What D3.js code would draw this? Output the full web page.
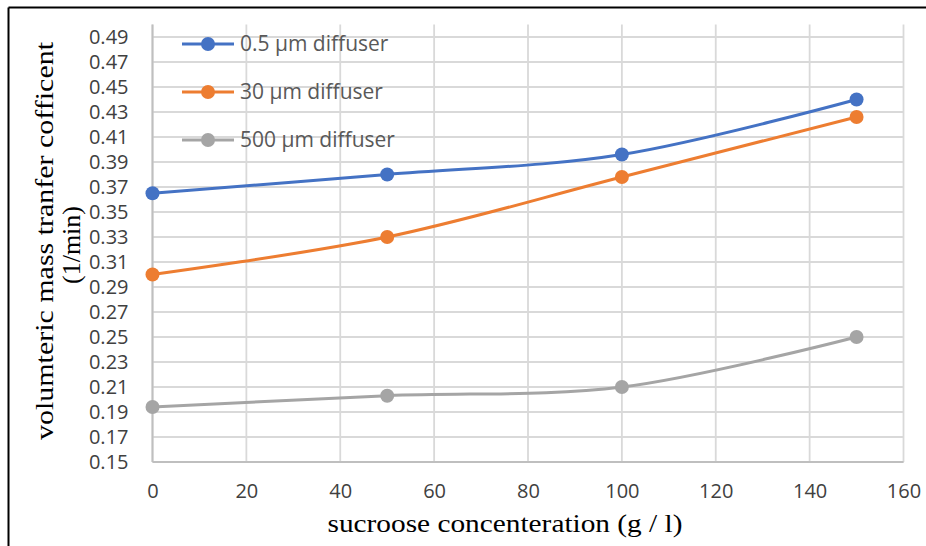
<!DOCTYPE html>
<html>
<head>
<meta charset="utf-8">
<script src="https://cdn.jsdelivr.net/npm/d3@7"></script>
<style>
  html, body { margin: 0; padding: 0; background: #fff; }
  svg { display: block; }
</style>
</head>
<body>
<svg id="chart" width="926" height="546"></svg>
<script>
const concentrations = [0, 50, 100, 150];
const seriesNames = ["0.5 \u00b5m diffuser", "30 \u00b5m diffuser", "500 \u00b5m diffuser"];
const diffuser05 = [0.365, 0.380, 0.396, 0.440];
const diffuser30 = [0.300, 0.330, 0.378, 0.426];
const diffuser500 = [0.194, 0.203, 0.210, 0.250];
const seriesColors = ["#4472C4", "#ED7D31", "#A5A5A5"];
const xTicks = [0, 20, 40, 60, 80, 100, 120, 140, 160];
const yTicks = [0.15, 0.17, 0.19, 0.21, 0.23, 0.25, 0.27, 0.29, 0.31, 0.33, 0.35, 0.37, 0.39, 0.41, 0.43, 0.45, 0.47, 0.49];

const series = [diffuser05, diffuser30, diffuser500].map((vals, i) => ({
  name: seriesNames[i], color: seriesColors[i],
  points: vals.map((v, j) => ({ x: concentrations[j], y: v }))
}));

const svg = d3.select("#chart");
const pLeft = 152.5, pRight = 903.5, pTop = 24.5, pBottom = 462;
const x = d3.scaleLinear().domain([0, 160]).range([pLeft, pRight]);
const y = d3.scaleLinear().domain([0.15, 0.5]).range([pBottom, pTop]);

// outer border (left and top)
svg.append("line").attr("x1", 8.5).attr("x2", 926).attr("y1", 7.5).attr("y2", 7.5)
  .attr("stroke", "#000").attr("stroke-width", 2);
svg.append("line").attr("x1", 8.5).attr("x2", 8.5).attr("y1", 7.5).attr("y2", 546)
  .attr("stroke", "#000").attr("stroke-width", 2);

// grid
const grid = svg.append("g");
grid.selectAll(".hg").data(yTicks).join("line")
  .attr("x1", pLeft).attr("x2", pRight)
  .attr("y1", d => y(d)).attr("y2", d => y(d))
  .attr("stroke", "#d9d9d9").attr("stroke-width", 1.8);
grid.selectAll(".vg").data(xTicks).join("line")
  .attr("x1", d => x(d)).attr("x2", d => x(d))
  .attr("y1", pTop).attr("y2", pBottom)
  .attr("stroke", "#d9d9d9").attr("stroke-width", 1.8);
// axis lines
svg.append("line").attr("x1", pLeft).attr("x2", pLeft).attr("y1", pTop).attr("y2", pBottom)
  .attr("stroke", "#bfbfbf").attr("stroke-width", 2);
svg.append("line").attr("x1", pLeft).attr("x2", pRight).attr("y1", pBottom).attr("y2", pBottom)
  .attr("stroke", "#bfbfbf").attr("stroke-width", 2);

// axes (labels only)
const tickFont = "'Open Sans', sans-serif";
const yAxis = svg.append("g").attr("transform", `translate(${pLeft},0)`)
  .call(d3.axisLeft(y).tickValues(yTicks).tickFormat(d3.format(".2f")).tickSize(0).tickPadding(24));
const xAxis = svg.append("g").attr("transform", `translate(0,${pBottom})`)
  .call(d3.axisBottom(x).tickValues(xTicks).tickFormat(d3.format("d")).tickSize(0).tickPadding(22));
[yAxis, xAxis].forEach(a => {
  a.select(".domain").remove();
  a.selectAll("text").attr("fill", "#404040").style("font-family", tickFont).style("font-size", "20px");
});

// lines
const line = d3.line().x(d => x(d.x)).y(d => y(d.y)).curve(d3.curveCatmullRom.alpha(0.5));
const sg = svg.append("g");
series.forEach(s => {
  sg.append("path").datum(s.points).attr("d", line)
    .attr("fill", "none").attr("stroke", s.color).attr("stroke-width", 3).attr("stroke-linecap", "round");
  sg.selectAll(null).data(s.points).join("circle")
    .attr("cx", d => x(d.x)).attr("cy", d => y(d.y)).attr("r", 7).attr("fill", s.color);
});

// legend
const legend = svg.append("g");
series.forEach((s, i) => {
  const ly = 44 + i * 48;
  legend.append("line").attr("x1", 182).attr("x2", 234).attr("y1", ly).attr("y2", ly)
    .attr("stroke", s.color).attr("stroke-width", 3);
  legend.append("circle").attr("cx", 208).attr("cy", ly).attr("r", 7).attr("fill", s.color);
  legend.append("text").attr("x", 240).attr("y", ly).attr("dy", "0.35em")
    .attr("fill", "#595959").style("font-family", tickFont).style("font-size", "21px")
    .text(s.name);
});

// axis titles
const titleFont = "'Liberation Serif', 'Times New Roman', serif";
svg.append("text").attr("x", 505).attr("y", 532).attr("text-anchor", "middle")
  .style("font-family", titleFont).style("font-size", "26px").attr("fill", "#000")
  .attr("textLength", 355).attr("lengthAdjust", "spacingAndGlyphs")
  .text("sucroose concenteration (g / l)");
const yt = svg.append("text").attr("transform", "translate(0,241) rotate(-90)")
  .attr("text-anchor", "middle")
  .style("font-family", titleFont).style("font-size", "26px").attr("fill", "#000");
yt.append("tspan").attr("x", 0).attr("y", 53)
  .attr("textLength", 398).attr("lengthAdjust", "spacingAndGlyphs")
  .text("volumteric mass tranfer cofficent");
yt.append("tspan").attr("x", -4).attr("y", 80).text("(1/min)");
</script>
</body>
</html>
